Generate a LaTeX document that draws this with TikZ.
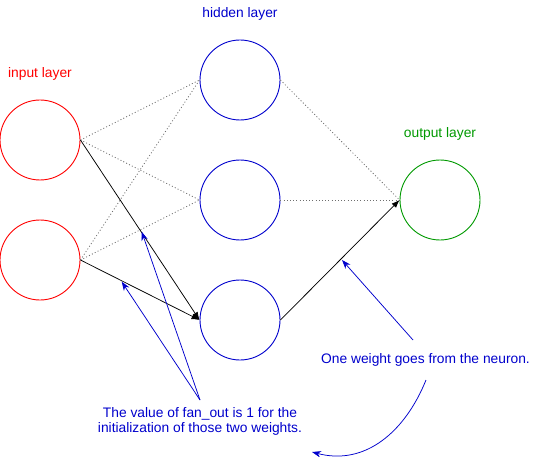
\documentclass[tikz,border=0pt]{standalone}
\usepackage{fontspec}
\setmainfont{Liberation Sans}
\usetikzlibrary{arrows.meta}
\definecolor{nred}{RGB}{255,0,0}
\definecolor{nblue}{RGB}{0,0,204}
\definecolor{ngreen}{RGB}{0,153,0}
\definecolor{dotgray}{RGB}{110,110,110}
\begin{document}
\begin{tikzpicture}[x=1pt,y=-1pt,
  neuron/.style={circle,draw,line width=0.9pt,minimum size=80pt,inner sep=0pt},
  lbl/.style={font=\fontsize{13.8}{15.5}\selectfont,anchor=base,inner sep=0pt},
  weak/.style={dotgray,line width=0.8pt,dash pattern=on 1pt off 2.2pt},
  strong/.style={black,line width=0.75pt,-{Latex[length=8pt,width=6pt]}},
  note/.style={nblue,line width=0.75pt,-{Stealth[length=9pt,width=6.5pt]}}]
\useasboundingbox (0,0) rectangle (551,457);
% neurons
\node[neuron,nred] (i1) at (40,140) {};
\node[neuron,nred] (i2) at (40,260) {};
\node[neuron,nblue] (h1) at (240,80) {};
\node[neuron,nblue] (h2) at (240,200) {};
\node[neuron,nblue] (h3) at (240,320) {};
\node[neuron,ngreen] (o) at (440,200) {};
% layer labels
\node[lbl,text=nred] (li) at (40,78) {input layer};
\node[lbl,text=nblue] (lh) at (240,18) {hidden layer};
\node[lbl,text=ngreen] (lo) at (440,138) {output layer};
% dotted weights
\draw[weak] (i1.east) -- (h1.west);
\draw[weak] (i1.east) -- (h2.west);
\draw[weak] (i2.east) -- (h1.west);
\draw[weak] (i2.east) -- (h2.west);
\draw[weak] (h1.east) -- (o.west);
\draw[weak] (h2.east) -- (o.west);
% solid weights
\draw[strong] (i1.east) -- (h3.west);
\draw[strong] (i2.east) -- (h3.west);
\draw[strong] (h3.east) -- (o.west);
% annotation texts
\node[lbl,text=nblue] (t1) at (425.5,363) {One weight goes from the neuron.};
\node[font=\fontsize{13.8}{15.5}\selectfont,text=nblue,align=center,anchor=north,inner sep=0pt] (t2) at (200,407) {The value of fan\_out is 1 for the\\initialization of those two weights.};
% annotation anchor points
\coordinate (s1) at (200,400);
\coordinate (p1) at (141.7,231.7);
\coordinate (p2) at (121.7,281.7);
\coordinate (s2) at (413,340);
\coordinate (p3) at (342,260);
\coordinate (s3) at (426,380);
\coordinate (p4) at (312,452);
\draw[note] (s1) -- (p1);
\draw[note] (s1) -- (p2);
\draw[note] (s2) -- (p3);
\draw[note] (s3) .. controls (405,432) and (365,466) .. (p4);
\end{tikzpicture}
\end{document}
